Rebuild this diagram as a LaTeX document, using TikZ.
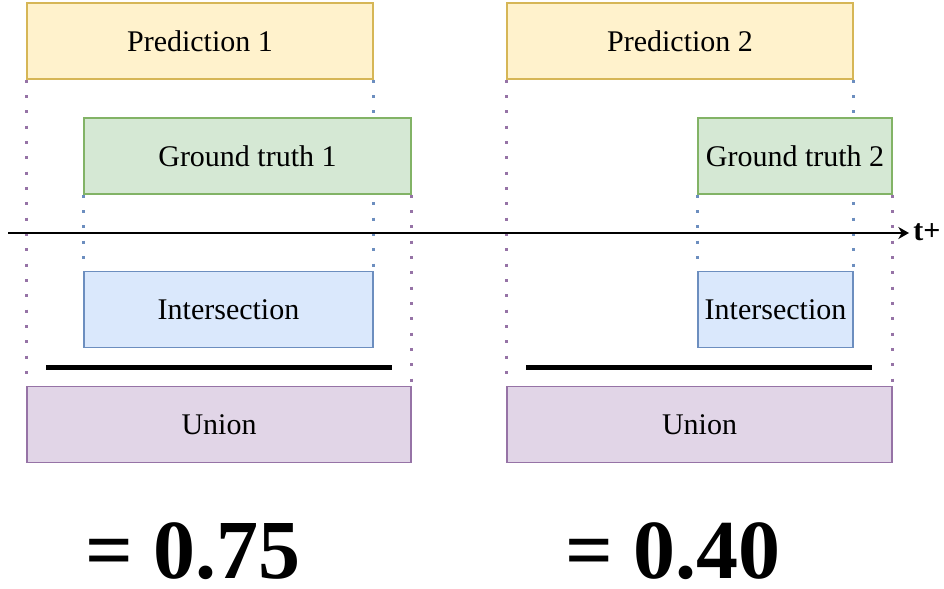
\documentclass[tikz,border=0pt]{standalone}
\usepackage{fontspec}
\setmainfont{Liberation Serif}
\usetikzlibrary{arrows.meta, positioning, backgrounds}
\definecolor{predfill}{HTML}{FFF2CC}
\definecolor{preddraw}{HTML}{D6B656}
\definecolor{gtfill}{HTML}{D5E8D4}
\definecolor{gtdraw}{HTML}{82B366}
\definecolor{intfill}{HTML}{DAE8FC}
\definecolor{intdraw}{HTML}{6C8EBF}
\definecolor{unifill}{HTML}{E1D5E7}
\definecolor{unidraw}{HTML}{9673A6}

\begin{document}
\begin{tikzpicture}[
  x=0.75pt, y=-0.75pt,
  >={Stealth[length=8pt, width=9pt, inset=2.5pt]},
  every node/.style={text=black, font=\fontsize{22.5}{27}\selectfont},
  box/.style={line width=1.1pt, minimum height=57pt, inner sep=0pt, align=center},
  predbox/.style={box, fill=predfill, draw=preddraw},
  gtbox/.style={box, fill=gtfill, draw=gtdraw},
  intbox/.style={box, fill=intfill, draw=intdraw},
  unibox/.style={box, fill=unifill, draw=unidraw},
  guide/.style={line width=2.2pt, dash pattern=on 2.2pt off 9.3pt},
  result/.style={font=\fontsize{63}{70}\selectfont\bfseries, anchor=base, inner sep=0pt},
]

\useasboundingbox (0,0) rectangle (944,588);

% Case 1
\node[predbox, minimum width=259.5pt] (pred1) at (200,41) {Prediction 1};
\node[gtbox, minimum width=245.25pt] (gt1) at (247.5,156) {Ground truth 1};
\node[intbox, minimum width=216.75pt] (inter1) at (228.5,309.5) {Intersection};
\node[unibox, minimum width=288pt] (union1) at (219,424.5) {Union};
\draw[line width=3.75pt] (46,367) -- (392,367);
\node[result] (iou1) at (193,578) {= 0.75};

% Case 2
\node[predbox, minimum width=259.5pt] (pred2) at (680,41) {Prediction 2};
\node[gtbox, minimum width=145.5pt] (gt2) at (795,156) {Ground truth 2};
\node[intbox, minimum width=116.25pt] (inter2) at (775.5,309.5) {Intersection};
\node[unibox, minimum width=288.75pt] (union2) at (699.5,424.5) {Union};
\draw[line width=3.75pt] (526,367) -- (872,367);
\node[result] (iou2) at (673,578) {= 0.40};

% Guide lines
\begin{scope}[on background layer]
  \foreach \i in {1,2} {
    \draw[guide, unidraw] (pred\i.south west) -- (union\i.north west);
    \draw[guide, unidraw] (gt\i.south east) -- (union\i.north east);
    \draw[guide, intdraw] (pred\i.south east) -- (inter\i.north east);
    \draw[guide, intdraw] (gt\i.south west) -- (inter\i.north west);
  }
\end{scope}

% Time axis
\coordinate (t0) at (8,233);
\node[anchor=west, inner sep=3pt, font=\fontsize{22.5}{27}\selectfont\bfseries] (tlab) at (909,232) {t+};
\draw[line width=1.1pt, ->] (t0) -- (t0 -| tlab.west);

\end{tikzpicture}
\end{document}
